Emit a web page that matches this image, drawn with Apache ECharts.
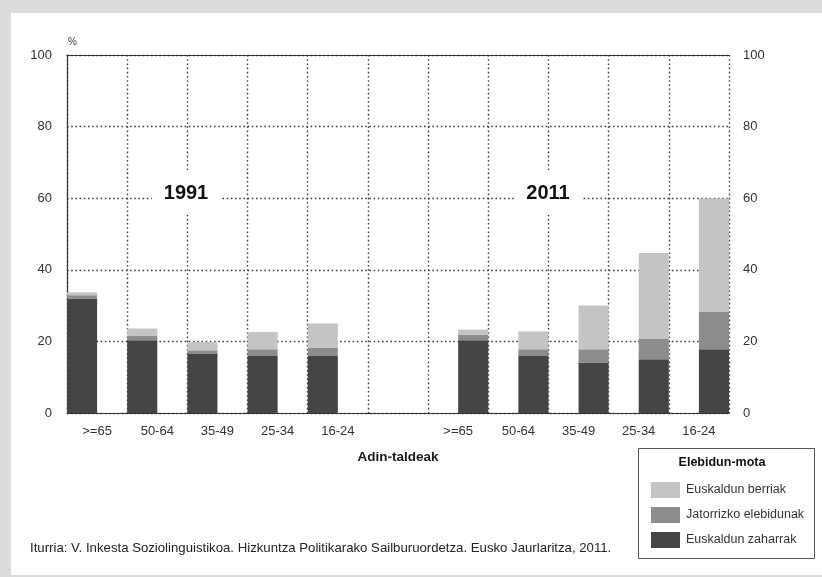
<!DOCTYPE html>
<html>
<head>
<meta charset="utf-8">
<script src="https://cdn.jsdelivr.net/npm/echarts@6/dist/echarts.min.js"></script>
<style>
html,body{margin:0;padding:0;background:#dcdcdc;width:822px;height:577px;overflow:hidden;}
#panel{position:absolute;left:11px;top:13px;width:811px;height:562px;background:#ffffff;}
#chart{position:absolute;left:0;top:0;width:822px;height:577px;}
</style>
</head>
<body>
<div id="panel"></div>
<div id="chart"></div>
<script>
// Age-group tick labels (11 slots: 5 for 1991, an empty gap, 5 for 2011)
var tickLabels = ['>=65','50-64','35-49','25-34','16-24','','>=65','50-64','35-49','25-34','16-24'];
var ageGroups = ['>=65','50-64','35-49','25-34','16-24'];
var seriesNames = ['Euskaldun zaharrak','Jatorrizko elebidunak','Euskaldun berriak'];

// 1991 values (%)
var zaharrak1991 = [32.0, 20.3, 16.6, 15.9, 15.9];
var jatorrizko1991 = [0.9, 1.2, 0.9, 1.9, 2.4];
var berriak1991 = [0.8, 2.1, 2.3, 4.8, 6.7];

// 2011 values (%)
var zaharrak2011 = [20.3, 15.9, 14.1, 15.0, 17.8];
var jatorrizko2011 = [1.6, 1.9, 3.7, 5.7, 10.4];
var berriak2011 = [1.4, 5.0, 12.2, 24.0, 31.7];

var colors = {'Euskaldun zaharrak':'#444444','Jatorrizko elebidunak':'#8c8c8c','Euskaldun berriak':'#c4c4c4'};

function pad1991(arr){ return arr.concat(['-','-','-','-','-','-']); }
function pad2011(arr){ return ['-','-','-','-','-','-'].concat(arr); }

var dotted = {color:'#404040', width:1.4, type:[1.6,2.6]};

function mk(name, data, stack){
  return {
    name: name, type:'bar', stack: stack, data: data,
    barGap:'0%', barCategoryGap:'0%',
    itemStyle:{color: colors[name]},
    emphasis:{disabled:true}
  };
}

var series = [
  mk(seriesNames[0], pad1991(zaharrak1991), 'y1991'),
  mk(seriesNames[1], pad1991(jatorrizko1991), 'y1991'),
  mk(seriesNames[2], pad1991(berriak1991), 'y1991'),
  mk(seriesNames[0], pad2011(zaharrak2011), 'y2011'),
  mk(seriesNames[1], pad2011(jatorrizko2011), 'y2011'),
  mk(seriesNames[2], pad2011(berriak2011), 'y2011')
];

var chart = echarts.init(document.getElementById('chart'), null, {renderer:'canvas'});
var slots = tickLabels.map(function(_, i){ return 's' + i; });
var font = 'Liberation Sans, Arial, sans-serif';

chart.setOption({
  animation:false,
  backgroundColor:'transparent',
  textStyle:{fontFamily:font},
  grid:{left:67, right:93, top:55, bottom:164},
  xAxis:[{
    type:'category', data:slots, boundaryGap:true,
    axisLine:{show:true, lineStyle:{color:'#333', width:1.2}},
    axisTick:{show:false},
    axisLabel:{interval:0, margin:12, fontSize:13, color:'#333', fontFamily:font,
      formatter:function(v, i){ return tickLabels[i]; }},
    splitLine:{show:true, interval:0, lineStyle:dotted},
    name:'Adin-taldeak', nameLocation:'middle', nameGap:37,
    nameTextStyle:{fontSize:13.5, fontWeight:'bold', color:'#1a1a1a', fontFamily:font}
  },{
    type:'category', data:slots, position:'top',
    axisLine:{show:true, onZero:false, lineStyle:{color:'#333', width:1.2}},
    axisTick:{show:false}, axisLabel:{show:false}, splitLine:{show:false}
  }],
  yAxis:[{
    type:'value', min:0, max:100, interval:20, position:'left',
    axisLine:{show:true, lineStyle:{color:'#333', width:1.2}},
    axisTick:{show:false},
    axisLabel:{margin:15, fontSize:13, color:'#333', fontFamily:font},
    splitLine:{show:true, lineStyle:dotted}
  },{
    type:'value', min:0, max:100, interval:20, position:'right',
    axisLine:{show:false}, axisTick:{show:false},
    axisLabel:{margin:14, fontSize:13, color:'#333', fontFamily:font},
    splitLine:{show:false}
  }],
  legend:{
    data:[seriesNames[2], seriesNames[1], seriesNames[0]],
    orient:'vertical', left:651, top:482, padding:0,
    itemWidth:29, itemHeight:16, itemGap:9,
    icon:'rect', selectedMode:false,
    textStyle:{fontSize:12.5, color:'#333', fontFamily:font, padding:[0,0,0,1]}
  },
  graphic:[
    {type:'text', left:68, top:37, style:{text:'%', fontSize:10, fill:'#333', font:'10px ' + font}},
    {type:'text', x:186, y:193, z:10, style:{text:'1991', font:'bold 20px ' + font, fill:'#111',
      align:'center', verticalAlign:'middle', backgroundColor:'#ffffff', padding:[12,12,12,12]}},
    {type:'text', x:548, y:193, z:10, style:{text:'2011', font:'bold 20px ' + font, fill:'#111',
      align:'center', verticalAlign:'middle', backgroundColor:'#ffffff', padding:[12,12,12,12]}},
    {type:'rect', shape:{x:638.5, y:448.5, width:176, height:110}, style:{fill:'#fff', stroke:'#555', lineWidth:1}, z:-1},
    {type:'text', x:722, y:463, style:{text:'Elebidun-mota', font:'bold 12.5px ' + font, fill:'#111',
      align:'center', verticalAlign:'middle'}},
    {type:'text', left:30, top:542, style:{text:'Iturria: V. Inkesta Soziolinguistikoa. Hizkuntza Politikarako Sailburuordetza. Eusko Jaurlaritza, 2011.',
      font:'13.2px ' + font, fill:'#222'}}
  ],
  series:series
});
</script>
</body>
</html>
